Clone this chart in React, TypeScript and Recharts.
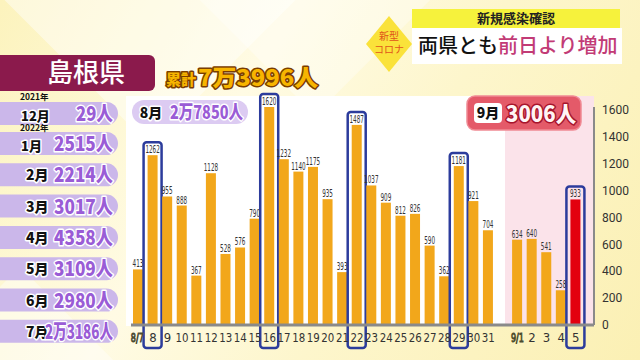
import React from 'react';
import { BarChart, Bar, XAxis, YAxis, LabelList } from 'recharts';

// ---- data ----
const days = ['8/7', '8', '9', '10', '11', '12', '13', '14', '15', '16', '17', '18', '19', '20', '21', '22', '23', '24', '25', '26', '27', '28', '29', '30', '31', ' ', '9/1', '2', '3', '4', '5'];
const cases: (number | null)[] = [413, 1262, 955, 888, 367, 1128, 528, 576, 790, 1620, 1232, 1140, 1175, 935, 393, 1487, 1037, 909, 812, 826, 590, 362, 1181, 921, 704, null, 634, 640, 541, 258, 933];
const highlightedDays = ['8', '16', '22', '29', '5'];
const latestDay = '5';
const yTicks = [0, 200, 400, 600, 800, 1000, 1200, 1400, 1600];

const monthLabels = ['12月', '1月', '2月', '3月', '4月', '5月', '6月', '7月'];
const monthTotals = ['29人', '2515人', '2214人', '3017人', '4358人', '3109人', '2980人', '2万3186人'];
const yearLabels = ['2021年', '2022年'];
const prefecture = '島根県';
const cumulativeLabel = '累計';
const cumulativeTotal = '7万3996人';
const augustLabel = '8月';
const augustTotal = '2万7850人';
const septemberLabel = '9月';
const septemberTotal = '3006人';
const headlineTop = '新規感染確認';
const headlineA = '両県とも';
const headlineB = '前日より増加';
const badgeA = '新型';
const badgeB = 'コロナ';

const data = days.map((d, i) => ({ label: d, value: cases[i] }));

const JP = "'Noto Sans CJK JP', 'Noto Sans', sans-serif";
const NARROW = "'DejaVu Sans Condensed', 'Liberation Sans Narrow', 'Roboto', sans-serif";

const BarShape = (props: any) => {
  const { x, y, width, height } = props;
  const p = props.payload ?? props;
  if (height == null || isNaN(height)) return null;
  const isLatest = p.label === latestDay;
  const hl = highlightedDays.includes(p.label);
  return (
    <g>
      <rect x={x} y={y} width={width} height={height} fill={isLatest ? '#e3000f' : '#f2a71b'} />
      {hl && (
        <rect x={x - 4} y={y - 13} width={width + 8} height={height + 13 + 23} rx={3}
          fill="none" stroke="#2c3c9c" strokeWidth={2.5} />
      )}
    </g>
  );
};

const ValueLabel = (props: any) => {
  const { x, y, width, value, index } = props;
  if (value == null) return null;
  const s = String(value);
  const isLatest = days[index] === latestDay;
  return (
    <text x={x + width / 2} y={y - 2} textAnchor="middle" fontSize={10} fontFamily={NARROW}
      fill={isLatest ? '#e3000f' : '#333'} textLength={s.length * 3.6} lengthAdjust="spacingAndGlyphs">
      {s}
    </text>
  );
};

const XTick = (props: any) => {
  const { x, y, payload } = props;
  const v = payload.value as string;
  const isSep1 = v === '9/1';
  const isAug7 = v === '8/7';
  const special = isSep1 || isAug7;
  return (
    <text x={isAug7 ? x - 1 : x} y={y + 9} textAnchor="middle" fontSize={13} fontFamily={NARROW}
      fill={isSep1 ? '#d6d52c' : isAug7 ? '#9a9a9a' : '#333'}
      stroke={special ? '#4a4a30' : 'none'} strokeWidth={special ? 1 : 0}
      textLength={v.length >= 2 ? (special ? 13 : 13) : undefined} lengthAdjust="spacingAndGlyphs">
      {v}
    </text>
  );
};

const Outlined = (p: any) => (
  <text {...p} paintOrder="stroke" strokeLinejoin="round">{p.children}</text>
);

export default function App() {
  return (
    <div style={{ position: 'absolute', left: 0, top: 0, width: 640, height: 360, overflow: 'hidden',
      background: 'linear-gradient(120deg, #fcf3bd 0%, #fffbe4 35%, #fdf6cc 60%, #fbf0b4 100%)' }}>
      {/* decorative light shapes */}
      <div style={{ position: 'absolute', left: 40, top: -120, width: 220, height: 220, transform: 'rotate(45deg)', background: 'rgba(255,255,255,0.45)' }} />
      <div style={{ position: 'absolute', left: 230, top: -90, width: 170, height: 170, transform: 'rotate(45deg)', background: 'rgba(255,255,255,0.35)' }} />
      <div style={{ position: 'absolute', left: -60, top: 300, width: 160, height: 160, transform: 'rotate(45deg)', background: 'rgba(255,255,255,0.4)' }} />
      {/* plot panel */}
      <div style={{ position: 'absolute', left: 126, top: 96, width: 468, height: 230, background: '#ffffff' }} />
      <div style={{ position: 'absolute', left: 505, top: 96, width: 89, height: 230, background: '#fbe3ea' }} />

      <div style={{ position: 'absolute', left: 0, top: 0 }}>
        <BarChart width={640} height={360} data={data} margin={{ top: 107, right: 0, bottom: 0, left: 131 }} barSize={10}>
          <XAxis dataKey="label" height={35} tick={<XTick />} tickLine={false} interval={0}
            axisLine={{ stroke: '#8a8a8a', strokeWidth: 3 }} padding={{ left: 0, right: 11 }} />
          <YAxis yAxisId="l" orientation="left" width={0} tick={false} tickLine={false} domain={[0, 1600]}
            axisLine={{ stroke: '#8a8a8a', strokeWidth: 3 }} />
          <YAxis yAxisId="r" orientation="right" width={46} domain={[0, 1600]} ticks={yTicks} interval={0}
            tickLine={false} axisLine={{ stroke: '#8a8a8a', strokeWidth: 2 }}
            tick={{ fontSize: 12, fill: '#333', fontFamily: 'Roboto, sans-serif' }} />
          <Bar yAxisId="r" dataKey="value" shape={<BarShape />} isAnimationActive={false}>
            <LabelList dataKey="value" content={<ValueLabel />} />
          </Bar>
        </BarChart>
      </div>

      <svg width={640} height={360} style={{ position: 'absolute', left: 0, top: 0, pointerEvents: 'none' }}>
        {/* headline */}
        <polygon points="389,16 412,44 389,72 366,44" fill="#fae23a" />
        <text x={389} y={40} textAnchor="middle" fontSize={10} fill="#e0541a" fontFamily={JP}>{badgeA}</text>
        <text x={389} y={53} textAnchor="middle" fontSize={10} fill="#e0541a" fontFamily={JP}>{badgeB}</text>
        <rect x={412} y={9} width={208} height={19} fill="#f6f23c" />
        <text x={516} y={23} textAnchor="middle" fontSize={13} fontWeight={700} fill="#222" fontFamily={JP}>{headlineTop}</text>
        <rect x={412} y={28} width={210} height={36} fill="#ffffff" />
        <text x={418} y={53} fontSize={20} fontWeight={500} fontFamily={JP} fill="#111">
          {headlineA}<tspan fill="#c23b76">{headlineB}</tspan>
        </text>

        {/* prefecture banner */}
        <rect x={-10} y={55} width={165} height={36} rx={6} fill="#8b1a4c" />
        <text x={86} y={82} textAnchor="middle" fontSize={26} fontWeight={500} fill="#fff" fontFamily={JP}>{prefecture}</text>
        <Outlined x={166} y={85} fontSize={15} fontWeight={900} fill="#f7b500" stroke="#7a3e00" strokeWidth={3} fontFamily={JP}>{cumulativeLabel}</Outlined>
        <Outlined x={198} y={86} fontSize={23} fontWeight={900} fill="#f7b500" stroke="#7a3e00" strokeWidth={3} fontFamily={JP}
          textLength={120} lengthAdjust="spacingAndGlyphs">{cumulativeTotal}</Outlined>

        {/* monthly pills */}
        {monthLabels.map((m, i) => {
          const cy = i === 0 ? 113 : 143 + (i - 1) * 31.3;
          const t = monthTotals[i];
          const len = Math.min(68, t.replace(/[万人]/g, '').length * 11 + 15 * (t.length - t.replace(/[万人]/g, '').length));
          return (
            <g key={m}>
              <rect x={-12} y={cy - 11} width={130} height={23} rx={11.5} fill="#cbb7ea" />
              <Outlined x={i < 2 ? 21 : 26} y={cy + (i < 2 ? 8 : 6)} fontSize={i < 2 ? 13 : 14} fontWeight={900} fill="#111" stroke="#fff" strokeWidth={3} fontFamily={JP}>{m}</Outlined>
              <Outlined x={113} y={cy + 8} textAnchor="end" fontSize={20} fontWeight={900} fill="#9a5cd6" stroke="#fff" strokeWidth={3} fontFamily={JP}
                textLength={len} lengthAdjust="spacingAndGlyphs">{t}</Outlined>
            </g>
          );
        })}
        <text x={20} y={100} fontSize={8.5} fontWeight={700} fill="#111" fontFamily={JP}>{yearLabels[0]}</text>
        <text x={20} y={131} fontSize={8.5} fontWeight={700} fill="#111" fontFamily={JP}>{yearLabels[1]}</text>

        {/* August pill */}
        <rect x={132} y={100} width={116} height={24} rx={12} fill="#dccbf2" />
        <Outlined x={151} y={118} textAnchor="middle" fontSize={14} fontWeight={900} fill="#111" stroke="#fff" strokeWidth={3} fontFamily={JP}>{augustLabel}</Outlined>
        <Outlined x={170} y={119} fontSize={19} fontWeight={900} fill="#9a5cd6" stroke="#fff" strokeWidth={3} fontFamily={JP}
          textLength={73} lengthAdjust="spacingAndGlyphs">{augustTotal}</Outlined>

        {/* September box */}
        <rect x={467} y={96} width={114} height={34} rx={8} fill="#e45a69" stroke="#f08a94" strokeWidth={1.5} />
        <rect x={474} y={103} width={28} height={20} rx={4} fill="#fff" />
        <text x={488} y={118} textAnchor="middle" fontSize={14} fontWeight={900} fill="#111" fontFamily={JP}>{septemberLabel}</text>
        <Outlined x={506} y={122} fontSize={22} fontWeight={900} fill="#fff4f4" stroke="#a8142c" strokeWidth={3} fontFamily={JP}
          textLength={70} lengthAdjust="spacingAndGlyphs">{septemberTotal}</Outlined>
      </svg>
    </div>
  );
}
